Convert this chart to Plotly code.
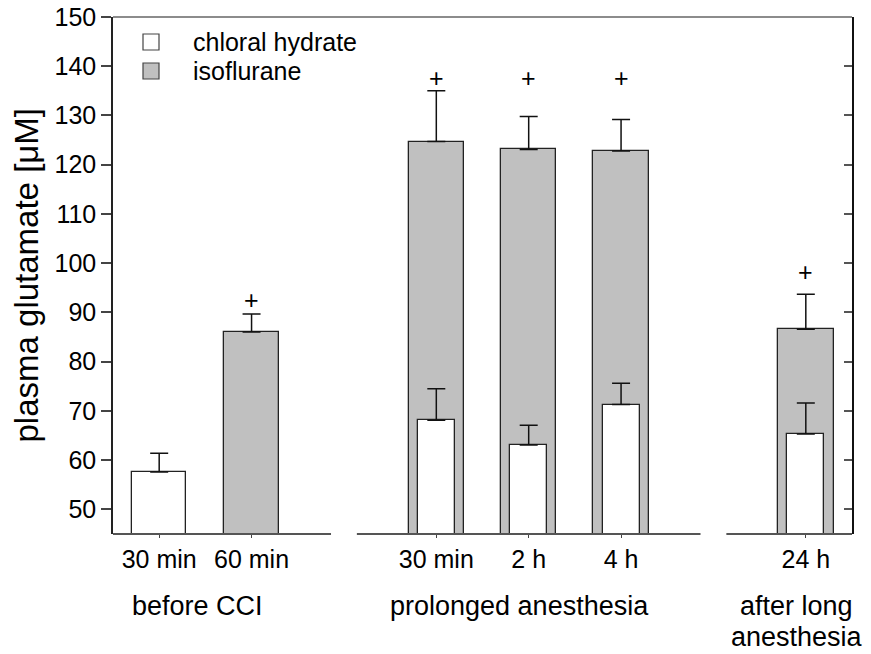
import plotly.graph_objects as go

# ---------------- data ----------------
tick_labels = ["30 min", "60 min", "30 min", "2 h", "4 h", "24 h"]
group_labels = ["before CCI", "prolonged anesthesia", "after long<br>anesthesia"]
chloral_hydrate = [57.6, None, 68.1, 63.1, 71.3, 65.3]
chloral_hydrate_sem = [3.8, None, 6.4, 4.0, 4.3, 6.3]
isoflurane = [None, 86.0, 124.7, 123.1, 122.8, 86.6]
isoflurane_sem = [None, 3.7, 10.3, 6.7, 6.4, 7.1]
isoflurane_significant = [False, True, True, True, True, True]

# ---------------- layout helpers ----------------
x_pos = [0.5, 1.5, 3.5, 4.5, 5.5, 7.5]
chloral_width = [0.59, 0.4, 0.4, 0.4, 0.4, 0.4]
iso_width = 0.6
plus_y = [None, 92.5, 137.6, 137.6, 137.6, 98.3]
group_x = [0.92, 4.4, 7.4]
axis_gaps = [(2.36, 2.64), (6.36, 6.64)]
XR = [0, 8]
YR = [45, 150]

FONT = "Liberation Sans, Arial, Helvetica, sans-serif"
GRAY = "#c0c0c0"
EDGE = "#222222"

W, H = 871, 654
L, R, T, B = 113, 19, 17, 120
PW = W - L - R
PH = H - T - B
PLOT_LEFT = L
PLOT_BOTTOM = H - B


def px_x(px):
    return (px - PLOT_LEFT) / PW


def px_y(py):
    return (PLOT_BOTTOM - py) / PH


fig = go.Figure()

# isoflurane (gray, drawn first = behind)
ix = [x for x, v in zip(x_pos, isoflurane) if v is not None]
iy = [v for v in isoflurane if v is not None]
ie = [e for e in isoflurane_sem if e is not None]
fig.add_trace(go.Bar(
    x=ix, y=iy, width=[iso_width] * len(ix), name="isoflurane",
    marker=dict(color=GRAY, line=dict(color=EDGE, width=1.3)),
    error_y=dict(type="data", symmetric=False, array=ie, arrayminus=[0] * len(ie),
                 color="#111", thickness=1.5, width=9),
    showlegend=False,
))

# chloral hydrate (white, in front)
cx = [x for x, v in zip(x_pos, chloral_hydrate) if v is not None]
cy = [v for v in chloral_hydrate if v is not None]
ce = [e for e in chloral_hydrate_sem if e is not None]
cw = [w for w, v in zip(chloral_width, chloral_hydrate) if v is not None]
fig.add_trace(go.Bar(
    x=cx, y=cy, width=cw, name="chloral hydrate",
    marker=dict(color="white", line=dict(color=EDGE, width=1.3)),
    error_y=dict(type="data", symmetric=False, array=ce, arrayminus=[0] * len(ce),
                 color="#111", thickness=1.5, width=9),
    showlegend=False,
))

# dummy trace for right axis
fig.add_trace(go.Scatter(x=[0], y=[100], yaxis="y2", mode="markers",
                         marker=dict(opacity=0), showlegend=False, hoverinfo="skip"))

shapes = []
# bottom axis with gaps
segs = []
start = XR[0]
for g0, g1 in axis_gaps:
    segs.append((start, g0))
    start = g1
segs.append((start, XR[1]))
for a, b in segs:
    shapes.append(dict(type="line", xref="x", yref="paper", x0=a, x1=b, y0=0, y1=0,
                       line=dict(color="#555", width=2)))
# top frame line
shapes.append(dict(type="line", xref="paper", yref="paper", x0=0, x1=1, y0=1, y1=1,
                   line=dict(color="#666", width=1.5)))

# legend squares
legend_items = [("chloral hydrate", "white", 42), ("isoflurane", GRAY, 71)]
annotations = []
for name, col, cyp in legend_items:
    shapes.append(dict(type="rect", xref="paper", yref="paper",
                       x0=px_x(143), x1=px_x(159), y0=px_y(cyp + 8), y1=px_y(cyp - 8),
                       fillcolor=col, line=dict(color="#444", width=1.2)))
    annotations.append(dict(xref="paper", yref="paper", x=px_x(191), y=px_y(cyp),
                            xanchor="left", yanchor="middle", text=name, showarrow=False,
                            font=dict(family=FONT, size=25, color="black")))

# significance markers
for x, v, s in zip(x_pos, plus_y, isoflurane_significant):
    if s:
        annotations.append(dict(x=x, y=v, xref="x", yref="y", text="+", showarrow=False,
                                xanchor="center", yanchor="middle",
                                font=dict(family=FONT, size=25, color="black")))

# group labels (one annotation per line for exact spacing)
for gx, gl in zip(group_x, group_labels):
    for i, line in enumerate(gl.split("<br>")):
        annotations.append(dict(x=gx, y=px_y(606 + 31 * i), xref="x", yref="paper",
                                text=line, showarrow=False, xanchor="center",
                                yanchor="middle",
                                font=dict(family=FONT, size=27, color="black")))

# y-axis title
annotations.append(dict(x=px_x(26), y=0.5, xref="paper", yref="paper",
                        text="plasma glutamate [μM]", textangle=-90, showarrow=False,
                        xanchor="center", yanchor="middle",
                        font=dict(family=FONT, size=33, color="black")))

fig.update_layout(
    width=W, height=H,
    margin=dict(l=L, r=R, t=T, b=B, autoexpand=False),
    paper_bgcolor="white", plot_bgcolor="white",
    barmode="overlay",
    bargap=0,
    font=dict(family=FONT, size=25, color="black"),
    xaxis=dict(range=XR, tickvals=x_pos, ticktext=tick_labels, showgrid=False,
               zeroline=False, showline=False, ticks="outside", ticklen=3,
               tickcolor="#444", tickfont=dict(size=25), automargin=False),
    yaxis=dict(range=YR, tickvals=list(range(50, 151, 10)), showgrid=False,
               zeroline=False, showline=True, linecolor="#222", linewidth=1.5,
               ticks="outside", ticklen=10, tickcolor="#444", tickwidth=1.5,
               tickfont=dict(size=25), automargin=False),
    yaxis2=dict(range=YR, overlaying="y", side="right", tickvals=list(range(50, 151, 10)),
                showgrid=False, zeroline=False, showline=True, linecolor="#111",
                linewidth=1.5, ticks="inside", ticklen=8, tickcolor="#555",
                tickwidth=1.5, showticklabels=False, automargin=False),
    shapes=shapes,
    annotations=annotations,
)

fig.write_html("out.html", config={"displayModeBar": False},
               post_script="document.body.style.margin='0px';")
